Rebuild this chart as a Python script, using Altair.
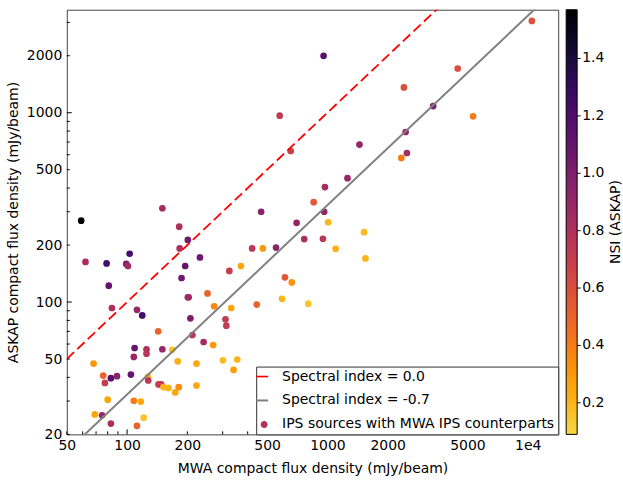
import altair as alt
import pandas as pd
import numpy as np

FONT = "DejaVu Sans"

# ---- data ----
mwa_flux = [59, 150, 182, 201, 183, 578, 656, 467, 854, 702, 766, 10490, 957, 4473, 2410,
            3375, 5337, 2457, 1446, 2494, 2340, 1260, 972, 964, 1009, 1524, 950, 1099, 1549, 803,
            62, 79, 103, 99, 101, 81, 84, 112, 119, 143, 195, 187, 231, 201, 203, 207, 212,
            421, 476, 554, 370, 324, 252, 272, 331, 310, 313, 444, 614, 664, 594,
            68, 76, 77.5, 83, 89, 104.5, 109, 108, 125, 125, 150, 168, 179, 222, 241,
            127, 127.5, 143.5, 148, 152, 161, 181, 174, 222, 80, 108, 117, 69, 75, 121, 83, 112,
            269, 301, 355, 340]
askap_flux = [269, 313, 250, 213, 192, 965, 628, 300, 337, 262, 215, 3054, 1998, 1713, 1360,
              1084, 957, 791, 679, 613, 577, 451, 405, 300, 264, 234, 216, 191, 170, 98,
              163, 160, 180, 159, 155, 122, 93, 91, 85, 70, 155, 134, 172, 106, 106, 82, 67,
              192, 192, 194, 155, 146, 111, 95, 93, 81, 75, 97, 135, 127, 104,
              47.3, 40.9, 37.4, 39.6, 40.6, 41.4, 57.2, 51.3, 56.3, 53.4, 56.3, 55.9, 48.6, 47.3, 61.5,
              40.3, 38.5, 36.7, 36.7, 35.5, 35.2, 35.5, 33.3, 36.2, 30.5, 30.1, 29.8, 25.5, 25.2, 24.5, 22.8, 22.2,
              59.3, 49.2, 49.7, 43.8]
nsi_askap = [1.57, 0.85, 0.8, 1.05, 0.8, 0.72, 0.68, 0.95, 0.55, 0.9, 0.82, 0.58, 1.15, 0.6, 0.6,
             1.0, 0.4, 0.9, 0.9, 0.85, 0.4, 0.9, 0.85, 0.9, 0.2, 0.18, 0.75, 0.22, 0.2, 0.15,
             0.82, 1.22, 1.22, 1.0, 0.85, 1.1, 0.82, 0.9, 1.22, 0.5, 1.1, 1.05, 1.05, 0.8, 0.88, 1.0, 0.75,
             0.75, 0.3, 0.95, 0.25, 0.7, 0.5, 0.35, 0.25, 0.72, 0.72, 0.5, 0.55, 0.32, 0.2,
             0.3, 0.5, 0.7, 1.15, 0.95, 1.1, 1.1, 0.9, 0.8, 0.75, 0.9, 0.15, 0.22, 0.25, 0.85,
             0.2, 0.75, 0.7, 0.7, 0.2, 0.2, 0.35, 0.25, 0.25, 0.25, 0.4, 0.25, 0.25, 0.9, 0.15, 0.8, 0.5,
             0.3, 0.18, 0.2, 0.28]

# reference lines (endpoints across the x range)
line_x = [50, 14200]
line_flat_y = [50, 14200]            # spectral index 0.0  -> S_askap = S_mwa
line_steep_y = [16.25, 4615]         # spectral index -0.7

legend_labels = ["Spectral index = 0.0", "Spectral index = -0.7",
                 "IPS sources with MWA IPS counterparts"]
legend_colors = ["#ff0000", "#808080", "#b0325f"]

x_major = [100, 1000, 10000]
x_minor = [50, 60, 70, 80, 90, 200, 300, 400, 500, 600, 700, 800, 900,
           2000, 3000, 4000, 5000, 6000, 7000, 8000, 9000]
y_major = [100, 1000]
y_minor = [20, 30, 40, 50, 60, 70, 80, 90, 200, 300, 400, 500, 600, 700, 800, 900, 2000, 3000]
x_labels = [50, 100, 200, 500, 1000, 2000, 5000, 10000]
y_labels = [20, 50, 100, 200, 500, 1000, 2000]
cbar_ticks = [0.2, 0.4, 0.6, 0.8, 1.0, 1.2, 1.4]
cbar_title = "NSI (ASKAP)"
nsi_range = [0.09, 1.57]

W, H = 493, 426
CB_OFF, CB_W = 8, 11

# ---- scales/axes ----
xscale = alt.Scale(type="log", domain=[50, 14200], nice=False)
yscale = alt.Scale(type="log", domain=[20, 3500], nice=False)
cscale = alt.Scale(scheme=alt.SchemeParams(name="inferno", extent=[0.9, 0.0]), domain=nsi_range)

xaxis = alt.Axis(values=x_labels, title="MWA compact flux density (mJy/beam)",
                 labelExpr="datum.value == 10000 ? '1e4' : format(datum.value, 'd')",
                 ticks=False, tickSize=0, domain=False, grid=False, labelPadding=4,
                 titlePadding=9, labelFontSize=14, titleFontSize=14, titleFontWeight="normal",
                 labelColor="black", titleColor="black", labelFont=FONT, titleFont=FONT,
                 labelFlush=False)
yaxis = alt.Axis(values=y_labels, title="ASKAP compact flux density (mJy/beam)",
                 labelExpr="format(datum.value, 'd')",
                 ticks=False, tickSize=0, domain=False, grid=False, labelPadding=5,
                 titlePadding=6, labelFontSize=14, titleFontSize=14, titleFontWeight="normal",
                 labelColor="black", titleColor="black", labelFont=FONT, titleFont=FONT,
                 labelFlush=False)

def X():
    return alt.X("x:Q", scale=xscale, axis=xaxis)

def Y(show=False):
    return alt.Y("y:Q", scale=yscale, axis=yaxis if show else None)

pts = pd.DataFrame({"x": mwa_flux, "y": askap_flux, "nsi": nsi_askap})
lines_flat = pd.DataFrame({"x": line_x, "y": line_flat_y})
lines_steep = pd.DataFrame({"x": line_x, "y": line_steep_y})
leg = pd.DataFrame({"x": [None] * 3, "y": [None] * 3, "label": legend_labels})

points = alt.Chart(pts).mark_circle(size=45, opacity=1).encode(
    x=X(), y=Y(True),
    color=alt.Color("nsi:Q", scale=cscale,
                    legend=alt.Legend(title=None, orient="right", offset=CB_OFF, padding=0,
                                      direction="vertical", type="gradient",
                                      gradientLength=H, gradientThickness=CB_W,
                                      gradientStrokeColor="black", gradientStrokeWidth=1,
                                      values=cbar_ticks, format=".1f", labelOverlap=False,
                                      labelFontSize=14, labelFont=FONT, labelColor="black",
                                      labelOffset=5)),
)

red = alt.Chart(lines_flat).mark_line(color="#ff0000", strokeWidth=1.8, strokeDash=[10, 4.5], clip=True).encode(
    x=X(), y=Y())
grey = alt.Chart(lines_steep).mark_line(color="#808080", strokeWidth=2, clip=True).encode(
    x=X(), y=Y())

# legend symbols: short red line, short grey line, circle (unit = 3.5 px)
paths = ["M-2.86,-0.24H0.57V0.24H-2.86Z",
         "M-2.86,-0.29H0.57V0.29H-2.86Z",
         "M0.43,0A1,1 0 1,1 -1.57,0A1,1 0 1,1 0.43,0Z"]
legend_layer = alt.Chart(leg).mark_point(filled=True, opacity=1).encode(
    x=X(), y=Y(),
    fill=alt.Fill("label:N", scale=alt.Scale(domain=legend_labels, range=legend_colors),
                  legend=alt.Legend(title=None, orient="bottom-right", offset=0,
                                    padding=3, labelFontSize=14, labelFont=FONT,
                                    labelColor="black", symbolSize=49, symbolStrokeWidth=0,
                                    labelOffset=9, rowPadding=10, fillColor="white",
                                    strokeColor="#333333", labelLimit=400)),
    shape=alt.Shape("label:N", scale=alt.Scale(domain=legend_labels, range=paths)),
)

title_layer = alt.Chart(pd.DataFrame({"t": [cbar_title]})).mark_text(
    angle=270, fontSize=14, font=FONT, color="black", align="center", baseline="middle"
).encode(x=alt.value(W + 58), y=alt.value(H / 2), text="t:N")

# colorbar tick marks (outward, right side of the bar)
cb_ticks = alt.Chart(pd.DataFrame({"v": cbar_ticks})).mark_rule(color="black", strokeWidth=1).encode(
    y=alt.Y("v:Q", scale=alt.Scale(domain=nsi_range, nice=False, zero=False), axis=None),
    x=alt.value(W + CB_OFF + CB_W), x2=alt.value(W + CB_OFF + CB_W + 3.5))

def xticks(vals, length):
    return alt.Chart(pd.DataFrame({"x": vals})).mark_rule(color="black", strokeWidth=1).encode(
        x=X(), y=alt.value(H), y2=alt.value(H - length))

def yticks(vals, length):
    return alt.Chart(pd.DataFrame({"y": vals})).mark_rule(color="black", strokeWidth=1).encode(
        y=Y(), x=alt.value(0), x2=alt.value(length))

chart = alt.layer(
    points, red, grey, legend_layer,
    xticks(x_major, 5), xticks(x_minor, 3), yticks(y_major, 5), yticks(y_minor, 3),
    title_layer, cb_ticks,
).resolve_scale(y="independent").properties(
    width=W, height=H,
    padding={"left": 6, "top": 9, "right": 0, "bottom": 0},
).configure(font=FONT).configure_view(stroke="#444444", strokeWidth=1)

chart.save("out.html", embed_options={"renderer": "svg", "actions": False})
